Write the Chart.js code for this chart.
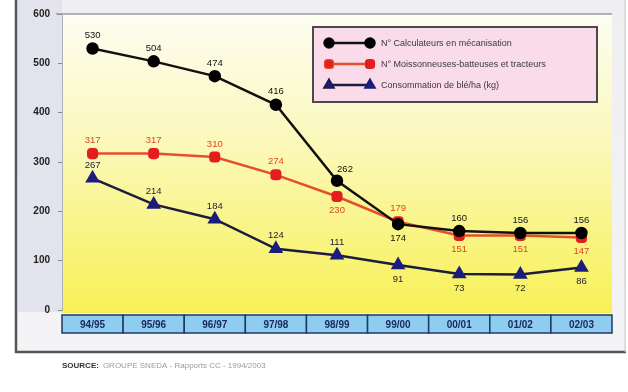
<!DOCTYPE html>
<html>
<head>
<meta charset="utf-8">
<script src="https://cdn.jsdelivr.net/npm/chart.js@4"></script>
<style>
    body { margin: 0; background: #fff; }
    #wrap { width: 628px; height: 392px; }
</style>
</head>
<body>
<div id="wrap"><canvas id="chart" width="628" height="392"></canvas></div>
<script>
// =========================
// DATA
// =========================
const seasons = ['94/95', '95/96', '96/97', '97/98', '98/99', '99/00', '00/01', '01/02', '02/03'];
const calculateurs = [530, 504, 474, 416, 262, 174, 160, 156, 156];
const moissonneuses = [317, 317, 310, 274, 230, 179, 151, 151, 147];
const consommation = [267, 214, 184, 124, 111, 91, 73, 72, 86];
const yTicks = [0, 100, 200, 300, 400, 500, 600];
const seriesNames = [
    'N° Calculateurs en mécanisation',
    'N° Moissonneuses-batteuses et tracteurs',
    'Consommation de blé/ha (kg)',
];
const sourceLabel = 'SOURCE:';
const sourceText = 'GROUPE SNEDA - Rapports CC - 1994/2003';

// =========================
// STYLE
// =========================
const font = '"Liberation Sans", Arial, sans-serif';
const styles = [
    { line: '#111111', point: '#000000', label: '#111111', shape: 'circle', pos: ['t', 't', 't', 't', 'tr', 'b', 't', 't', 't'] },
    { line: '#e4502c', point: '#e41e1e', label: '#e0481e', shape: 'rectRounded', pos: ['t', 't', 't', 't', 'b', 't', 'b', 'b', 'b'] },
    { line: '#1c1c3c', point: '#1c1c7c', label: '#1c1c3c', shape: 'triangle', pos: ['t', 't', 't', 't', 't', 'b', 'b', 'b', 'b'] },
];

function lineDataset(label, data, s) {
    return {
        label,
        data,
        borderColor: s.line,
        backgroundColor: s.point,
        pointBackgroundColor: s.point,
        pointBorderColor: s.point,
        pointStyle: s.shape,
        pointRadius: s.shape === 'triangle' ? 6 : 5,
        borderWidth: 2.5,
        tension: 0,
        fill: false,
    };
}

// =========================
// PLUGINS
// =========================
const backdrop = {
    id: 'backdrop',
    beforeDraw(chart) {
        const { ctx, chartArea: a } = chart;
        ctx.save();
        ctx.fillStyle = '#ffffff';
        ctx.fillRect(0, 0, 628, 392);

        // frame
        const g = ctx.createLinearGradient(0, 0, 0, 352);
        g.addColorStop(0, '#efeff2');
        g.addColorStop(1, '#f4f4f6');
        ctx.fillStyle = g;
        ctx.fillRect(15, 0, 611, 352);
        ctx.fillStyle = '#e2e3ec';
        ctx.fillRect(18, 0, a.left - 18, 312);

        ctx.strokeStyle = '#555';
        ctx.lineWidth = 2.5;
        ctx.beginPath();
        ctx.moveTo(16, 0);
        ctx.lineTo(16, 352);
        ctx.lineTo(626, 352);
        ctx.stroke();
        ctx.strokeStyle = '#c8c8cc';
        ctx.lineWidth = 1;
        ctx.beginPath();
        ctx.moveTo(625, 0);
        ctx.lineTo(625, 352);
        ctx.stroke();

        // plot area
        const p = ctx.createLinearGradient(0, a.top, 0, a.bottom);
        p.addColorStop(0, '#fdfdf3');
        p.addColorStop(0.45, '#fbf8b8');
        p.addColorStop(1, '#f7f157');
        ctx.fillStyle = p;
        ctx.fillRect(a.left, a.top, a.right - a.left, a.bottom - a.top + 3);
        ctx.strokeStyle = '#9a9aa0';
        ctx.lineWidth = 1.5;
        ctx.beginPath();
        ctx.moveTo(a.left - 6, a.top);
        ctx.lineTo(a.right, a.top);
        ctx.stroke();
        ctx.restore();
    },
};

const valueLabels = {
    id: 'valueLabels',
    afterDatasetsDraw(chart) {
        const { ctx } = chart;
        ctx.save();
        ctx.font = `9.5px ${font}`;
        ctx.textAlign = 'center';
        ctx.textBaseline = 'middle';
        chart.data.datasets.forEach((ds, di) => {
            const s = styles[di];
            chart.getDatasetMeta(di).data.forEach((pt, i) => {
                const pos = s.pos[i];
                let x = pt.x, y = pt.y;
                if (pos === 't') y -= 13;
                else if (pos === 'b') y += 14;
                else if (pos === 'tr') { x += 8; y -= 11; }
                ctx.fillStyle = s.label;
                ctx.fillText(String(ds.data[i]), x, y);
            });
        });
        ctx.restore();
    },
};

const categoryBand = {
    id: 'categoryBand',
    afterDraw(chart) {
        const { ctx, chartArea: a } = chart;
        const xs = chart.scales.x;
        const w = (a.right - a.left) / seasons.length;
        const top = a.bottom + 5, h = 18;
        ctx.save();
        seasons.forEach((lab, i) => {
            const cx = xs.getPixelForValue(i);
            ctx.fillStyle = '#8fcdee';
            ctx.fillRect(cx - w / 2, top, w, h);
            ctx.strokeStyle = '#1d3a66';
            ctx.lineWidth = 1.5;
            ctx.strokeRect(cx - w / 2, top, w, h);
            ctx.fillStyle = '#1a2a60';
            ctx.font = `bold 10px ${font}`;
            ctx.textAlign = 'center';
            ctx.textBaseline = 'middle';
            ctx.fillText(lab, cx, top + h / 2 + 1);
        });

        // source line
        ctx.textAlign = 'left';
        ctx.textBaseline = 'middle';
        ctx.font = `bold 8px ${font}`;
        ctx.fillStyle = '#333';
        ctx.fillText(sourceLabel, 62, 366);
        const sw = ctx.measureText(sourceLabel).width;
        ctx.font = `8px ${font}`;
        ctx.fillStyle = '#9a9a9a';
        ctx.fillText(sourceText, 62 + sw + 4, 366);
        ctx.restore();
    },
};

const boxLegend = {
    id: 'boxLegend',
    afterDraw(chart) {
        const { ctx } = chart;
        const x0 = 313, y0 = 27, w = 284, h = 75;
        ctx.save();
        ctx.fillStyle = '#f9dbe9';
        ctx.fillRect(x0, y0, w, h);
        ctx.strokeStyle = '#4a4a4a';
        ctx.lineWidth = 2;
        ctx.strokeRect(x0, y0, w, h);

        chart.data.datasets.forEach((ds, di) => {
            const s = styles[di];
            const y = y0 + 16 + di * 21;
            ctx.strokeStyle = s.line;
            ctx.lineWidth = 2.5;
            ctx.beginPath();
            ctx.moveTo(329, y);
            ctx.lineTo(370, y);
            ctx.stroke();
            [329, 370].forEach((px) => {
                Chart.helpers.drawPoint(ctx, {
                    pointStyle: s.shape,
                    radius: s.shape === 'triangle' ? 5 : 4.5,
                    rotation: 0,
                    borderWidth: 1,
                }, px, y);
                ctx.fillStyle = s.point;
                ctx.strokeStyle = s.point;
                ctx.fill();
            });
            ctx.fillStyle = '#3a3a3a';
            ctx.font = `9px ${font}`;
            ctx.textAlign = 'left';
            ctx.textBaseline = 'middle';
            ctx.fillText(ds.label, 381, y + 1);
        });
        ctx.restore();
    },
};

// =========================
// CHART
// =========================
new Chart(document.getElementById('chart'), {
    type: 'line',
    data: {
        labels: seasons,
        datasets: [
            lineDataset(seriesNames[0], calculateurs, styles[0]),
            lineDataset(seriesNames[1], moissonneuses, styles[1]),
            lineDataset(seriesNames[2], consommation, styles[2]),
        ],
    },
    options: {
        responsive: false,
        animation: false,
        layout: { padding: { left: 18, top: 14, right: 16, bottom: 82 } },
        plugins: {
            legend: { display: false },
            tooltip: { enabled: false },
        },
        scales: {
            x: { display: false, offset: true },
            y: {
                min: 0,
                max: 600,
                afterFit: (scale) => { scale.width = 44; },
                afterBuildTicks: (scale) => { scale.ticks = yTicks.map((v) => ({ value: v })); },
                ticks: {
                    color: '#222',
                    font: { family: font, size: 10, weight: 'bold' },
                    padding: 8,
                },
                grid: { drawOnChartArea: false, tickLength: 4, color: '#888' },
                border: { color: '#b0b0b8' },
            },
        },
    },
    plugins: [backdrop, valueLabels, categoryBand, boxLegend],
});
</script>
</body>
</html>
